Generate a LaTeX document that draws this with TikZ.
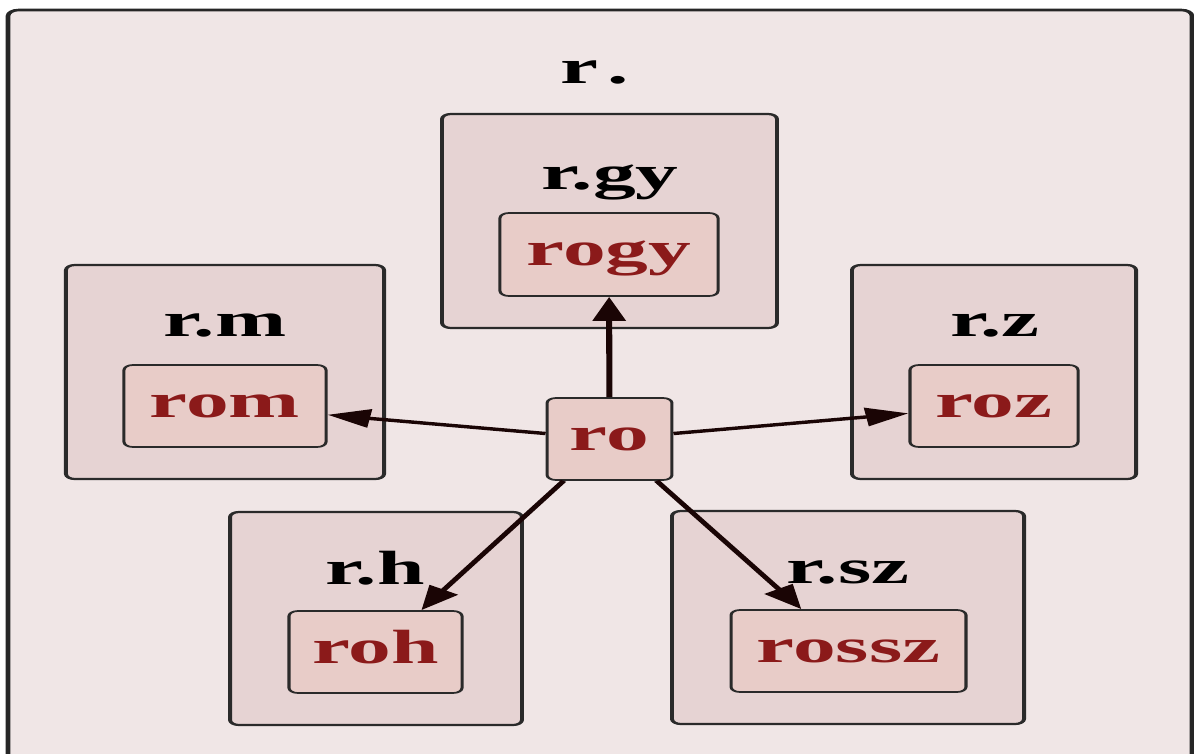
\documentclass[tikz,border=0pt]{standalone}
\usepackage{fontspec}
\setmainfont{Liberation Serif}
\usetikzlibrary{arrows.meta}
\definecolor{bgc}{HTML}{F0E6E6}
\definecolor{clc}{HTML}{E6D3D3}
\definecolor{nodec}{HTML}{E8CCC8}
\definecolor{txtred}{HTML}{8B1A1A}
\definecolor{edgec}{HTML}{2A2A2A}
\definecolor{arrc}{HTML}{1A0505}
\newcommand{\lblfont}{\fontsize{48}{56}\selectfont\bfseries}
\begin{document}
\begin{tikzpicture}[x=1pt,y=-1pt,
  cluster/.style={draw=edgec, line width=2.2pt, fill=clc, rounded corners=5pt, inner sep=0pt},
  leaf/.style={draw=edgec, line width=1.7pt, fill=nodec, rounded corners=5pt, inner sep=0pt,
    text=txtred, font=\lblfont, text height=22pt, text depth=0pt},
  clab/.style={font=\lblfont, text=black, anchor=base, inner sep=0pt},
  arr/.style={draw=arrc, line width=3.4pt, -{Triangle[length=24pt,width=18pt]}}]
\useasboundingbox (0,0) rectangle (1194,753);
\clip (0,0) rectangle (1194,753);
\fill[white] (0,0) rectangle (1194,753);
\begin{scope}[transform canvas={xscale=1.78}, x=0.5618pt, y=-1pt]
\draw[line width=2.6pt, draw=black!85, fill=bgc, rounded corners=6pt] (8,10) rectangle (1192,800);
\node[clab] (lroot) at (595,83) {r\hspace{5pt}.};
% clusters
\node[cluster, minimum width=188.2pt, minimum height=214pt] (cgy) at (609.5,221) {};
\node[cluster, minimum width=178.7pt, minimum height=214pt] (cm) at (225,372) {};
\node[cluster, minimum width=159.6pt, minimum height=214pt] (cz) at (994,372) {};
\node[cluster, minimum width=164pt, minimum height=213pt] (ch) at (376,618.5) {};
\node[cluster, minimum width=197.8pt, minimum height=213pt] (csz) at (848,617.5) {};
% cluster labels
\node[clab] (lgy) at (610,189) {r.gy};
\node[clab] (lm) at (225,336) {r.m};
\node[clab] (lz) at (995,336) {r.z};
\node[clab] (lh) at (375,584) {r.h};
\node[clab] (lsz) at (848,583) {r.sz};
% leaves
\node[leaf, minimum width=122.5pt, minimum height=83pt] (rogy) at (609,254.5) {rogy};
\node[leaf, minimum width=113.5pt, minimum height=82pt] (rom) at (225,406) {rom};
\node[leaf, minimum width=94.4pt, minimum height=82pt] (roz) at (994,406) {roz};
\node[leaf, minimum width=70.2pt, minimum height=82pt] (ro) at (609.5,439) {ro};
\node[leaf, minimum width=97.2pt, minimum height=82pt] (roh) at (375.5,652) {roh};
\node[leaf, minimum width=132pt, minimum height=82pt] (rossz) at (848.5,651) {rossz};
% edges
\draw[arr] (ro) -- (rogy);
\draw[arr] (ro) -- (rom);
\draw[arr] (ro) -- (roz);
\draw[arr] (ro) -- (roh);
\draw[arr] (ro) -- (rossz);
\end{scope}
\end{tikzpicture}
\end{document}
